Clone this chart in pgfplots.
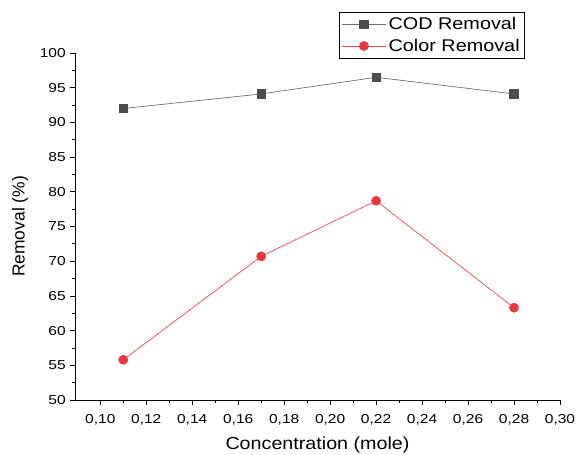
\documentclass[border=0pt]{standalone}
\usepackage{fontspec}
\setmainfont{Liberation Sans}
\usepackage{pgfplots}
\pgfplotsset{compat=1.18}
\definecolor{codmark}{HTML}{4D4D4D}
\definecolor{codline}{HTML}{6E6E6E}
\definecolor{colmark}{HTML}{E8383D}
\definecolor{colline}{HTML}{F04A4F}
\begin{document}
\begin{tikzpicture}[x=1bp,y=1bp]
\begin{axis}[
  scale only axis,
  width=485bp, height=347bp,
  xmin=0.089, xmax=0.30,
  ymin=50, ymax=100,
  axis lines*=left,
  axis line style={line width=0.8pt},
  tick align=outside,
  major tick length=5bp,
  minor tick length=3bp,
  tick style={line width=0.8pt, black},
  xtick={0.10,0.12,...,0.305},
  ytick={50,55,...,100},
  minor x tick num=1,
  minor y tick num=1,
  /pgf/number format/assume math mode=true,
  ticklabel style={font=\fontsize{13}{15}\selectfont, xscale=1.2},
  xticklabel style={yshift=-6bp, /pgf/number format/.cd, fixed, fixed zerofill, precision=2, use comma},
  xlabel={Concentration (mole)},
  ylabel={Removal (\%)},
  xlabel style={font=\fontsize{17.5}{19}\selectfont, xscale=1.13, yshift=-4.5bp},
  ylabel style={font=\fontsize{17.5}{19}\selectfont, yshift=4bp},
  legend style={at={(0.545,1.118)}, anchor=north west, draw=black, line width=0.6pt,
    font=\fontsize{17}{19}\selectfont, row sep=4bp, inner xsep=2bp, inner ysep=3bp,
    nodes={xscale=1.17}, legend cell align=left,
    /tikz/every even column/.append style={column sep=5bp}},
  legend image code/.code={\draw[mark repeat=2, mark phase=2] plot coordinates {(0bp,0bp) (22bp,0bp) (44bp,0bp)};},
]
\addplot[color=codline, line width=0.7pt, mark=square*, mark size=4.2bp,
  mark options={fill=codmark, draw=codmark}] coordinates {
  (0.11,92.0) (0.17,94.1) (0.22,96.5) (0.28,94.1)};
\addlegendentry{COD Removal}
\addplot[color=colline, line width=0.7pt, mark=*, mark size=4.5bp,
  mark options={fill=colmark, draw=colmark}] coordinates {
  (0.11,55.8) (0.17,70.7) (0.22,78.7) (0.28,63.3)};
\addlegendentry{Color Removal}
\end{axis}
\pgfresetboundingbox
\path ([shift={(-75bp,-55bp)}]current axis.south west) rectangle ([shift={(16bp,53bp)}]current axis.north east);
\end{tikzpicture}
\end{document}
